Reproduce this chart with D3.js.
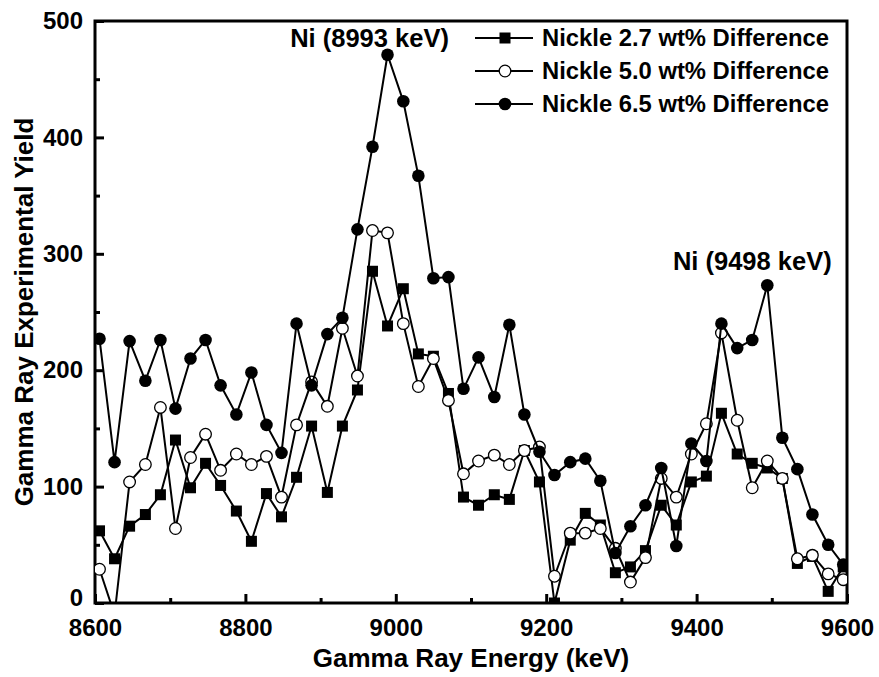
<!DOCTYPE html>
<html>
<head>
<meta charset="utf-8">
<script src="https://cdn.jsdelivr.net/npm/d3@7"></script>
<style>
  body { margin: 0; background: #fff; }
  svg { display: block; font-family: "Liberation Sans", Arial, sans-serif; font-weight: bold; }
</style>
</head>
<body>
<div id="chart"></div>
<script>
// channel energies (keV)
const energy = [8606, 8626, 8646, 8667, 8687, 8707, 8727, 8747, 8767, 8788,
  8808, 8828, 8848, 8868, 8888, 8909, 8929, 8949, 8969, 8989,
  9010, 9030, 9050, 9070, 9090, 9110, 9131, 9151, 9171, 9191,
  9211, 9232, 9252, 9272, 9292, 9312, 9332, 9353, 9373, 9393,
  9413, 9433, 9454, 9474, 9494, 9514, 9534, 9554, 9575, 9595];

const ni27 = [62, 38, 66, 76, 93, 140, 99, 120, 101, 79,
  53, 94, 74, 108, 152, 95, 152, 183, 285, 238,
  270, 214, 212, 180, 91, 84, 93, 89, 131, 104,
  0, 54, 77, 67, 26, 31, 45, 84, 67, 104,
  109, 163, 128, 120, 116, 107, 34, 40, 10, 31];

const ni50 = [29, -10, 104, 119, 168, 64, 125, 145, 114, 128,
  119, 126, 91, 153, 190, 169, 236, 195, 320, 318,
  240, 186, 210, 174, 111, 122, 127, 119, 131, 134,
  23, 60, 60, 64, 47, 18, 39, 107, 91, 128,
  154, 232, 157, 99, 122, 107, 38, 41, 25, 20];

const ni65 = [227, 121, 225, 191, 226, 167, 210, 226, 187, 162,
  198, 153, 129, 240, 187, 231, 245, 321, 392, 471,
  431, 367, 279, 280, 184, 211, 177, 239, 162, 130,
  110, 121, 124, 105, 43, 66, 84, 116, 49, 137,
  122, 240, 219, 226, 273, 142, 115, 76, 50, 33];

const seriesNames = ['Nickle 2.7 wt% Difference', 'Nickle 5.0 wt% Difference', 'Nickle 6.5 wt% Difference'];
const seriesMarkers = ['square', 'open', 'filled'];

const xMajor = [8600, 8800, 9000, 9200, 9400, 9600];
const xMinor = [8700, 8900, 9100, 9300, 9500];
const yMajor = [0, 100, 200, 300, 400, 500];
const yMinor = [50, 150, 250, 350, 450];

// peak annotations, tied to the peak channel of the 6.5 wt% series
const peakLabels = ['Ni (8993 keV)', 'Ni (9498 keV)'];
const peakIndex = [19, 44];

const W = 879, H = 677;
const margin = { top: 21, right: 32, bottom: 74, left: 95 };

const svg = d3.select('#chart').append('svg')
  .attr('width', W)
  .attr('height', H);

const x = d3.scaleLinear().domain([8600, 9600]).range([margin.left, W - margin.right]);
const y = d3.scaleLinear().domain([0, 500]).range([H - margin.bottom, margin.top]);

svg.append('clipPath').attr('id', 'plot-clip')
  .append('rect')
  .attr('x', x(8600)).attr('y', y(500))
  .attr('width', x(9600) - x(8600)).attr('height', y(0) - y(500));

// axes, ticks point inward
function styleAxis(g) {
  g.select('.domain').remove();
  g.selectAll('.tick line').attr('stroke', '#000').attr('stroke-width', 3);
  g.selectAll('.tick text').attr('fill', '#000').style('font-size', '24px').style('font-weight', 'bold');
}

svg.append('g')
  .attr('transform', `translate(0,${y(0)})`)
  .call(d3.axisBottom(x).tickValues(xMajor).tickSize(-9).tickPadding(16).tickFormat(d3.format('d')))
  .call(styleAxis);

svg.append('g')
  .attr('transform', `translate(0,${y(0)})`)
  .call(d3.axisBottom(x).tickValues(xMinor).tickSize(-5).tickFormat(''))
  .call(styleAxis);

const yAxis = svg.append('g')
  .attr('transform', `translate(${x(8600)},0)`)
  .call(d3.axisLeft(y).tickValues(yMajor).tickSize(-9).tickPadding(12))
  .call(styleAxis);
// the zero label sits a little higher, clear of 8600
yAxis.selectAll('.tick text').filter((d) => d === 0).attr('dy', '0.1em');

svg.append('g')
  .attr('transform', `translate(${x(8600)},0)`)
  .call(d3.axisLeft(y).tickValues(yMinor).tickSize(-5).tickFormat(''))
  .call(styleAxis);

// frame
svg.append('rect')
  .attr('x', x(8600)).attr('y', y(500))
  .attr('width', x(9600) - x(8600)).attr('height', y(0) - y(500))
  .attr('fill', 'none')
  .attr('stroke', '#000')
  .attr('stroke-width', 3);

// data series
const line = d3.line().x((d) => x(d[0])).y((d) => y(d[1]));

function drawMarker(g, kind, cx, cy) {
  if (kind === 'square') {
    g.append('rect').attr('x', cx - 5.5).attr('y', cy - 5.5).attr('width', 11).attr('height', 11).attr('fill', '#000');
  } else if (kind === 'open') {
    g.append('circle').attr('cx', cx).attr('cy', cy).attr('r', 5.8).attr('fill', '#fff').attr('stroke', '#000').attr('stroke-width', 1.3);
  } else {
    g.append('circle').attr('cx', cx).attr('cy', cy).attr('r', 6.3).attr('fill', '#000');
  }
}

const plot = svg.append('g').attr('clip-path', 'url(#plot-clip)');

[ni27, ni50, ni65].forEach((vals, k) => {
  const pts = energy.map((e, i) => [e, vals[i]]);
  const g = plot.append('g');
  g.append('path')
    .datum(pts)
    .attr('d', line)
    .attr('fill', 'none')
    .attr('stroke', '#000')
    .attr('stroke-width', 2);
  pts.forEach((p) => drawMarker(g, seriesMarkers[k], x(p[0]), y(p[1])));
});

// peak labels
const labelShift = [[-18, -8], [-15, -15]];
peakLabels.forEach((label, k) => {
  const i = peakIndex[k];
  svg.append('text')
    .attr('x', x(energy[i]) + labelShift[k][0])
    .attr('y', y(ni65[i]) + labelShift[k][1])
    .attr('text-anchor', 'middle')
    .style('font-size', '25.5px')
    .text(label);
});

// legend
const legend = svg.append('g');
const rowY = [38, 71, 104];
seriesNames.forEach((name, k) => {
  legend.append('line')
    .attr('x1', 475).attr('x2', 533)
    .attr('y1', rowY[k]).attr('y2', rowY[k])
    .attr('stroke', '#000').attr('stroke-width', 2);
  drawMarker(legend, seriesMarkers[k], 505, rowY[k]);
  legend.append('text')
    .attr('x', 542)
    .attr('y', rowY[k] + 8)
    .style('font-size', '23.8px')
    .text(name);
});

// axis titles
svg.append('text')
  .attr('x', (x(8600) + x(9600)) / 2)
  .attr('y', 667)
  .attr('text-anchor', 'middle')
  .style('font-size', '26px')
  .text('Gamma Ray Energy (keV)');

svg.append('text')
  .attr('transform', `translate(33,${(y(0) + y(500)) / 2}) rotate(-90)`)
  .attr('text-anchor', 'middle')
  .style('font-size', '26px')
  .text('Gamma Ray Experimental Yield');
</script>
</body>
</html>
